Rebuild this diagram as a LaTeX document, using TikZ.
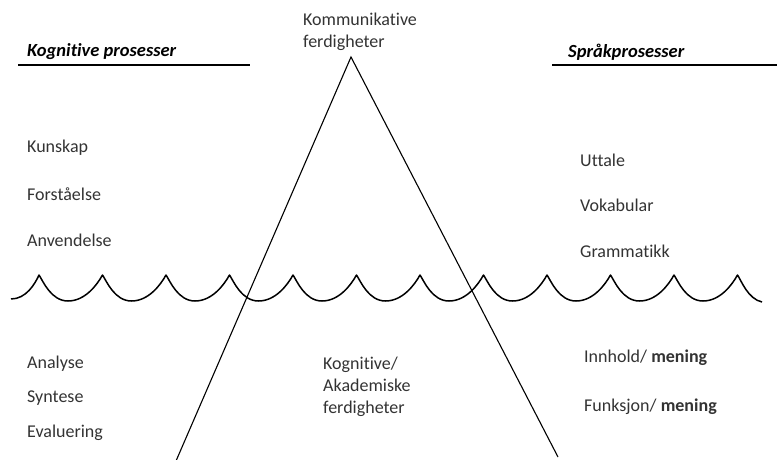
\documentclass[tikz,border=0pt]{standalone}
\usepackage{fontspec}
\setmainfont{Carlito}[Ligatures=NoCommon]
\usetikzlibrary{calc}

\begin{document}
\begin{tikzpicture}[x=1pt,y=-1pt,
  item/.style={anchor=west,inner sep=0pt,text=black!80,font=\fontsize{18}{22}\selectfont},
  head/.style={anchor=west,inner sep=0pt,font=\fontsize{18.5}{22}\selectfont\bfseries\itshape}]
  \useasboundingbox (0,0) rectangle (777,460);
  % headers
  \node[head] (kogn) at (27,52) {Kognitive prosesser};
  \node[head] (spraak) at (568,52) {Språkprosesser};
  \draw[line width=2.6pt] (18,65) -- (250,65);
  \draw[line width=2.6pt] (552,65) -- (777,65);
  % triangle
  \node[item,align=left] (komm) at (303,31.5) {Kommunikative\\ferdigheter};
  \coordinate (apex) at (351,57);
  \coordinate (bl) at (176,461);
  \coordinate (br) at (558,457);
  \draw[line width=1.1pt] (bl) -- (apex) -- (br);
  % water line
  \draw[line width=1.5pt,line join=round] (11,299) .. controls (26,299) and (35,284) .. (39,275)
    \foreach \i in {0,...,10} {
      .. controls ({39+63.5*\i+4},281) and ({39+63.5*\i+12},301) .. ({39+63.5*\i+29},301)
      .. controls ({39+63.5*\i+46},301) and ({39+63.5*\i+58},285) .. ({39+63.5*(\i+1)},275)
    }
    .. controls (741.5,281) and (748,299) .. (762,302);
  % left column
  \node[item] (kunskap) at (27,148) {Kunskap};
  \node[item] (forst) at (27,194) {Forståelse};
  \node[item] (anv) at (27,240) {Anvendelse};
  \node[item] (anal) at (27,364) {Analyse};
  \node[item] (synt) at (27,398.5) {Syntese};
  \node[item] (eval) at (27,433) {Evaluering};
  % middle
  \node[item,align=left] (akad) at (323,387) {Kognitive/\\Akademiske\\ferdigheter};
  % right column
  \node[item] (utt) at (580,160) {Uttale};
  \node[item] (vok) at (580,205) {Vokabular};
  \node[item] (gram) at (580,251) {Grammatikk};
  \node[item] (innh) at (584,358) {Innhold/ \textbf{mening}};
  \node[item] (funk) at (584,407) {Funksjon/ \textbf{mening}};
\end{tikzpicture}
\end{document}
